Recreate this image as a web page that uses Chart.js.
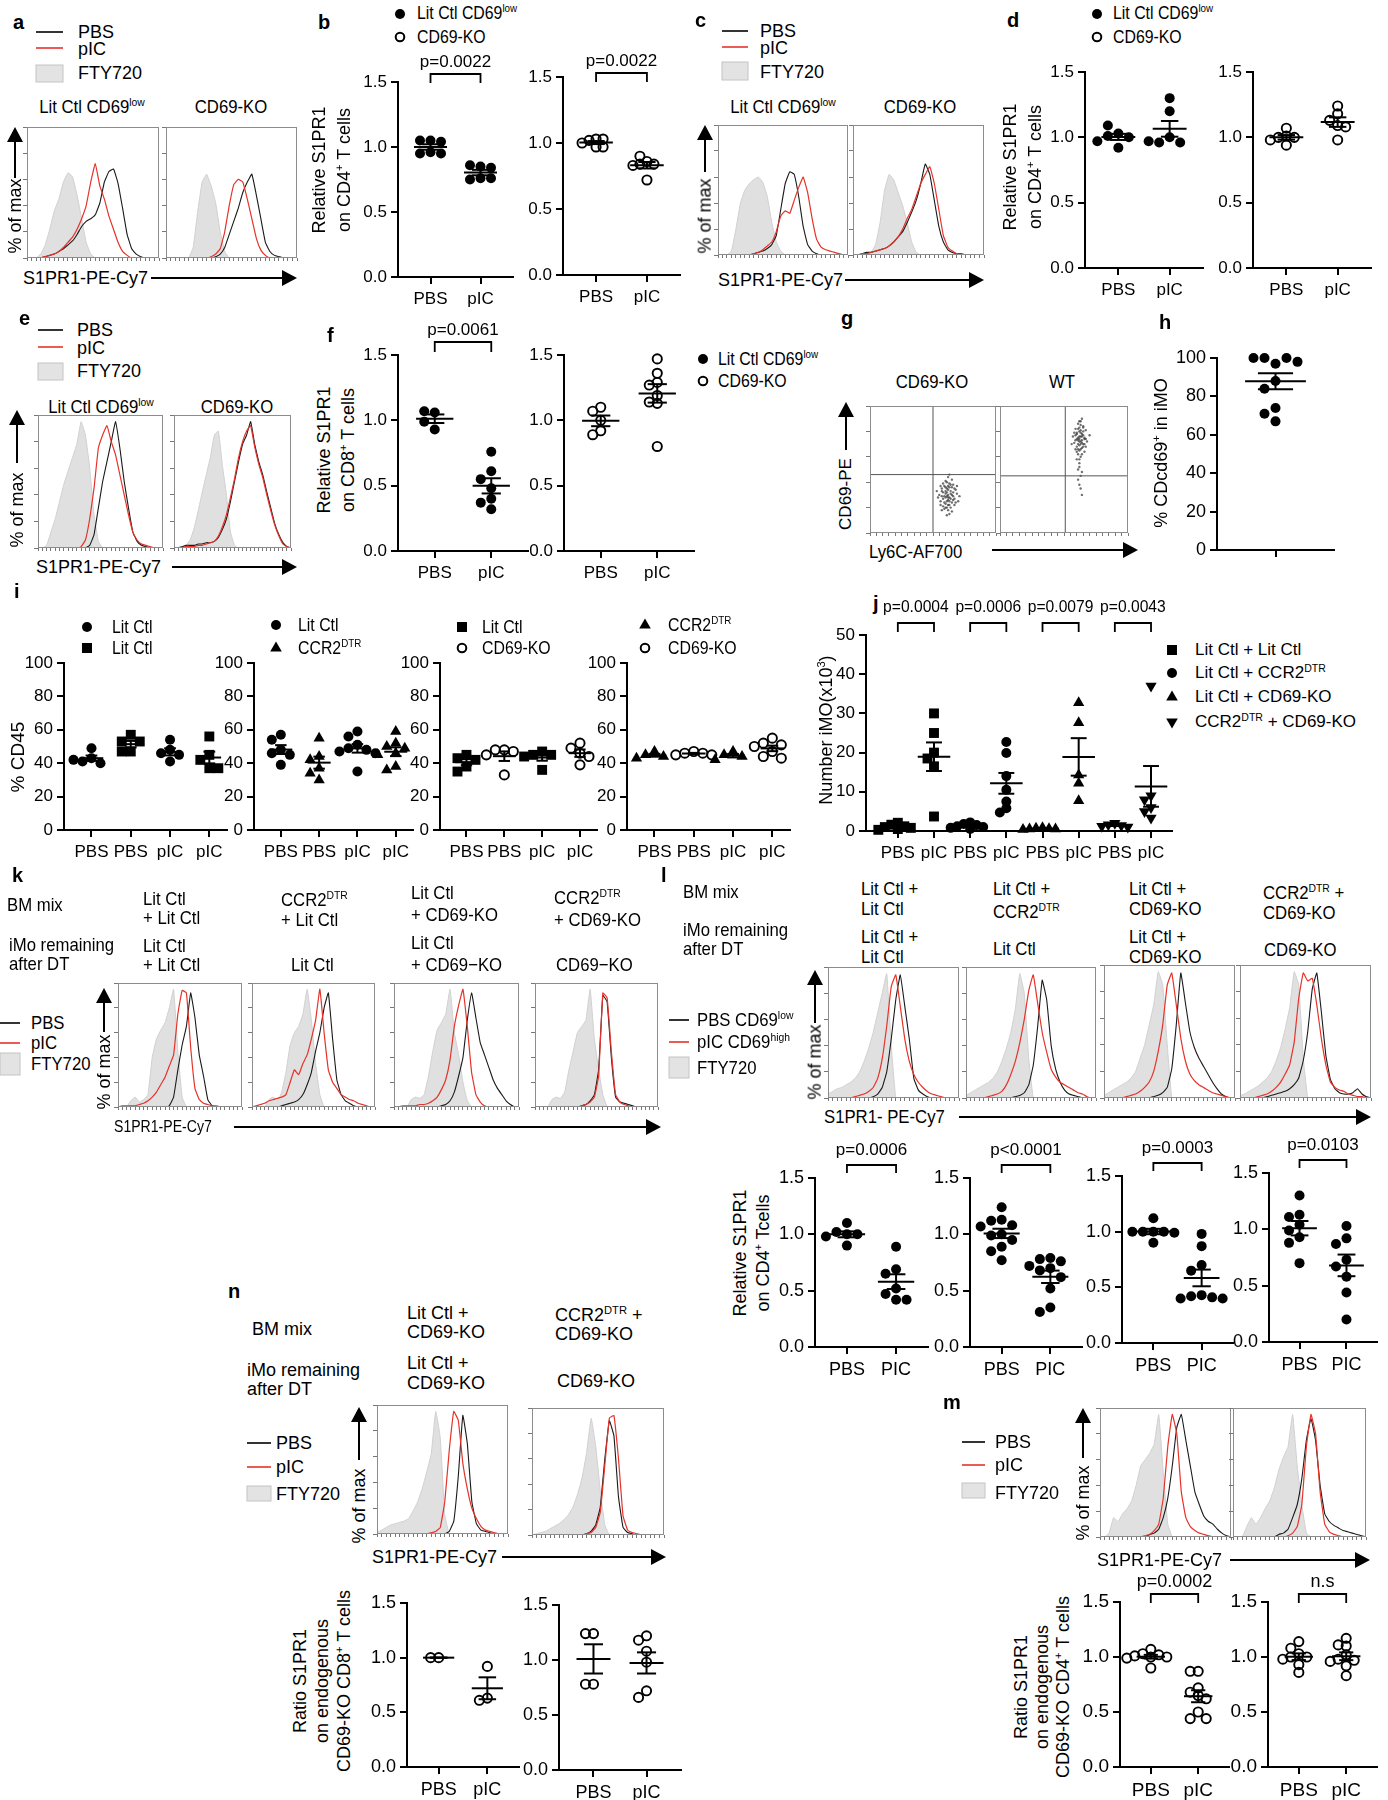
<!DOCTYPE html>
<html>
<head>
<meta charset="utf-8">
<title>S1PR1 / CD69 figure</title>
<script src="https://cdn.jsdelivr.net/npm/chart.js@4.4.1/dist/chart.umd.min.js"></script>
<style>
  html, body { margin: 0; padding: 0; background: #fff; }
  #page { position: relative; width: 1388px; height: 1800px; overflow: hidden;
          font-family: "Liberation Sans", Arial, Helvetica, sans-serif; color: #000; }
  #deco { position: absolute; left: 0; top: 0; }
  .t { position: absolute; white-space: nowrap; line-height: 1.15; }
  .t sup { font-size: 0.62em; vertical-align: 0.6em; line-height: 0; }
  canvas { position: absolute; }
</style>
</head>
<body>
<div id="page"><svg id="deco" width="1388" height="1800"></svg></div>
<script>
// ---------- data ----------
// histogram traces: % of max on a 30-bin grid (trailing zeros padded in code)
const aLitFty = [0,0,0,3,10,22,36,45,58,65,62,48,30,12,3];
const aLitPbs = [0,0,0,0,1,2,3,5,7,10,13,18,24,28,30,33,42,58,66,68,57,38,18,7,3,1];
const aLitPic = [0,0,0,0,1,2,3,5,8,12,16,22,30,40,58,72,55,45,32,22,12,5,2];
const aKoFty = [0,0,0,0,0,0,8,35,58,64,55,42,20,5];
const aKoPbs = [0,0,0,0,0,0,0,0,0,0,0,1,3,8,18,28,38,50,58,64,48,30,12,5,2,1];
const aKoPic = [0,0,0,0,0,0,0,0,0,0,1,3,7,20,40,56,60,58,45,30,15,6,2];

const cLitFty = [0,0,0,3,20,40,50,55,58,60,56,45,25,10,3];
const cLitPbs = [0,0,0,0,0,0,0,0,1,2,3,5,8,15,35,55,64,62,45,22,8,3,1];
const cLitPic = [0,0,0,0,0,0,0,0,1,2,4,7,10,18,30,34,32,42,52,60,48,28,12,6,4,3,2,1];
const cKoFty = [0,0,0,0,2,8,25,50,62,58,48,38,25,10,2];
const cKoPbs = [0,0,1,2,2,3,4,5,7,10,14,18,25,33,42,55,70,62,42,22,10,4,2,1,1];
const cKoPic = [0,0,1,1,2,3,4,5,7,10,14,20,28,35,45,55,62,68,55,35,15,6,3,1];

const eLitFty = [0,0,2,12,22,35,48,58,68,78,95,85,60,25,5];
const eLitPbs = [0,0,0,0,0,0,0,0,0,0,0,0,2,10,30,50,65,80,95,75,50,30,12,5,2,1];
const eLitPic = [0,0,0,0,0,0,0,0,0,0,1,6,22,45,75,85,92,80,70,55,40,25,12,6,3,2,1];
const eKoFty = [0,0,0,2,6,15,28,42,55,68,85,88,62,40,12,2];
const eKoPbs = [0,0,1,2,2,2,3,3,4,4,5,8,14,22,35,50,65,78,85,95,78,65,55,42,30,18,10,4,1];
const eKoPic = [0,0,0,1,1,1,2,2,3,4,5,9,16,25,38,52,68,80,88,92,76,63,53,40,28,17,9,3,1];

const kh1Fty = [0,0,0,5,8,4,6,10,40,55,62,68,80,95,45,8];
const kh1Pbs = [0,0,0,0,0,0,0,0,0,0,0,0,1,8,30,50,65,92,72,42,25,6,1];
const kh1Pic = [0,1,1,1,1,2,3,5,8,12,18,24,33,42,75,94,92,48,15,6,3,2,1,1];
const kh2Fty = [0,0,0,0,6,8,5,12,28,50,60,65,75,95,70,35,10];
const kh2Pbs = [0,0,0,0,0,0,0,1,2,3,4,6,10,18,28,45,60,80,92,55,22,10,5,3,1];
const kh2Pic = [0,1,2,3,5,6,7,8,10,20,30,26,35,42,55,70,95,60,30,20,15,10,8,6,5,3,2,1];
const kh3Fty = [0,0,0,0,6,8,7,10,25,45,62,68,75,95,60,42,20,5];
const kh3Pbs = [0,0,0,0,0,0,0,0,0,0,0,1,2,5,12,25,40,70,92,72,52,42,32,22,15,10,5,2];
const kh3Pic = [0,0,1,1,1,1,2,2,3,5,8,14,22,38,65,82,95,65,28,10,4,1];
const kh4Fty = [0,0,0,0,6,8,7,12,30,45,60,65,70,95,55,30,10];
const kh4Pbs = [0,0,0,0,0,0,0,0,0,0,0,1,2,5,10,30,90,85,40,8,4,3,2,1];
const kh4Pic = [0,0,0,0,0,0,0,0,0,0,0,1,2,4,8,25,92,88,45,10,4,2,1];

const lh1Fty = [3,5,7,8,10,12,15,20,28,38,50,65,80,95,40];
const lh1Pbs = [0,0,0,0,0,0,0,0,0,0,1,3,8,20,45,75,94,70,45,15,6,3,1];
const lh1Pic = [0,0,0,0,0,0,1,2,3,5,8,15,30,55,85,94,70,45,28,18,12,8,5,3,2,1];
const lh2Fty = [2,4,6,8,10,12,15,20,28,38,50,68,95,80,30];
const lh2Pbs = [0,0,0,0,0,0,0,0,0,0,0,1,2,4,10,25,55,90,75,40,22,12,6,3,2,1];
const lh2Pic = [0,0,0,0,0,1,2,3,5,10,18,28,42,60,82,94,72,50,35,22,16,12,10,8,6,4,3,1];
const lh3Fty = [2,4,6,8,10,12,15,20,30,40,55,70,95,85,40];
const lh3Pbs = [0,0,0,0,0,0,0,0,0,0,0,1,2,4,8,22,55,94,72,50,38,30,24,18,12,7,3,1];
const lh3Pic = [0,0,0,0,0,1,2,3,5,8,12,20,35,55,85,94,70,45,28,18,13,10,8,6,4,3,2,1];
const lh4Fty = [2,3,5,7,9,12,15,20,28,38,52,68,95,85,30];
const lh4Pbs = [0,0,0,0,0,0,1,2,3,4,5,7,10,15,28,50,82,94,65,32,14,7,4,3,3,4,7,3,1];
const lh4Pic = [0,0,0,0,1,2,3,5,8,12,18,25,42,75,94,88,90,70,45,25,12,8,6,5,3,2,1,1];

const nh1Fty = [1,3,5,7,8,9,10,12,18,25,35,48,62,95,75,15];
const nh1Pbs = [0,0,0,0,0,0,0,0,0,0,0,0,0,0,0,0,2,10,45,92,70,25,8,3,2,1];
const nh1Pic = [0,0,0,0,0,0,0,0,0,0,0,0,1,2,5,25,65,95,88,55,35,20,12,6,3,2,1];
const nh2Fty = [0,1,2,3,5,7,9,12,16,22,32,45,65,92,70,35,8];
const nh2Pbs = [0,0,0,0,0,0,0,0,0,0,0,0,1,3,8,22,60,90,78,30,6,2,1];
const nh2Pic = [0,0,0,0,0,0,0,0,0,0,0,0,1,2,6,18,55,92,94,60,15,4,2,1];

const mh1Fty = [0,0,3,15,12,18,22,28,40,55,60,65,72,95,50,10];
const mh1Pbs = [0,0,0,0,0,0,0,0,0,0,0,2,3,6,15,30,55,85,95,75,55,35,25,16,12,10,6,3,1];
const mh1Pic = [0,0,0,0,0,0,0,0,0,0,1,2,5,10,30,70,95,80,35,15,8,5,3,2,1];
const mh2Fty = [0,0,0,8,15,10,15,22,28,38,52,62,70,95,55,25,3];
const mh2Pbs = [0,0,0,0,0,0,0,0,0,0,2,3,6,15,25,45,75,92,75,40,18,12,9,7,5,4,3,2,1];
const mh2Pic = [0,0,0,0,0,0,0,0,0,0,0,0,1,3,8,25,70,95,80,35,10,4,2,1];

// g: flow dot plots, [Ly6C %, CD69 %] of the plot frame
const gKoCells = [[62,30],[60,28],[64,33],[56,25],[67,27],[61,35],[63,22],[58,32],[66,38],[62,26],
  [55,30],[69,31],[60,20],[65,24],[61,40],[63,36],[57,35],[68,34],[59,24],[62,18],
  [66,29],[58,27],[64,31],[61,29],[65,42],[56,22],[70,25],[54,28],[62,44],[59,37],
  [64,20],[63,15],[58,39],[60,23],[67,22],[57,33],[71,29],[62,34],[60,31],[66,26],
  [61,14],[63,46],[57,18],[65,36],[62,28],[53,33],[69,37],[60,33],[64,27],[59,29],
  [63,39],[61,25],[66,32],[58,21],[62,22],[65,17],[60,41],[67,35],[56,37],[63,28],
  [61,32],[64,38],[59,19],[62,37],[68,24],[57,29],[63,25],[60,36],[65,30],[61,20]];
const gWtCells = [[63,72],[61,75],[65,70],[62,80],[64,78],[60,68],[66,74],[62,65],[63,85],[61,82],
  [65,77],[59,73],[64,67],[62,88],[60,79],[67,81],[63,70],[61,62],[65,84],[62,76],
  [64,73],[58,71],[63,60],[62,55],[61,50],[64,90],[57,76],[68,72],[63,79],[62,69],
  [66,64],[61,86],[60,58],[63,45],[62,38],[64,30],[59,82],[67,68],[62,74],[63,66],
  [60,78],[65,83],[62,52],[66,75],[60,64],[56,70],[70,77],[64,71],[61,70],[63,76],
  [65,80],[59,66],[62,83],[64,62],[61,73],[66,70],[58,79],[63,88],[60,74],[65,68],
  [62,72],[64,76],[61,66],[67,74],[59,77],[63,81],[62,58],[64,48],[61,42],[63,35]];
const gGateX = [50, 51];
const gGateY = [46, 45];

// dot plots
const pbsPic = ['PBS', 'pIC'];
const pbsPIC = ['PBS', 'PIC'];
const bLitPbs = [1.05, 1.05, 1.04, 0.96, 0.95, 0.95];
const bLitPic = [0.85, 0.86, 0.84, 0.76, 0.75, 0.76];
const bKoPbs = [1.03, 1.02, 1.03, 1.00, 0.97, 0.97];
const bKoPic = [0.86, 0.84, 0.84, 0.90, 0.83, 0.72];
const dLitPbs = [1.03, 1.01, 1.00, 1.09, 0.97, 0.92];
const dLitPic = [1.30, 1.20, 1.00, 0.96, 0.96, 0.97];
const dKoPbs = [1.07, 1.01, 1.00, 1.00, 0.98, 0.94];
const dKoPic = [1.24, 1.18, 1.13, 1.09, 1.08, 0.98];
const fLitPbs = [1.06, 1.07, 0.99, 0.93];
const fLitPic = [0.76, 0.61, 0.55, 0.48, 0.40, 0.37, 0.32];
const fKoPbs = [1.10, 1.07, 1.00, 0.92, 0.89];
const fKoPic = [1.47, 1.36, 1.29, 1.27, 1.19, 1.14, 1.13, 0.80];
const hCd69 = [97, 100, 100, 100, 98, 88, 84, 74, 71, 67];

const iCats = ['PBS', 'PBS', 'pIC', 'pIC'];
const i1LitA = [49, 43, 41, 40, 42],  i1LitB = [57, 53, 53, 47, 47];
const i1LitAp = [54, 48, 46, 45, 41], i1LitBp = [56, 45, 42, 37, 37];
const i2Lit = [57, 54, 48, 46, 45, 39], i2Ccr = [55, 44, 42, 37, 34, 30];
const i2Litp = [59, 56, 51, 49, 48, 47, 46, 35], i2Ccrp = [59, 52, 50, 49, 46, 45, 38, 36];
const i3Lit = [45, 43, 42, 38, 35], i3Ko = [48, 48, 47, 45, 33];
const i3Litp = [47, 45, 45, 44, 36], i3Kop = [52, 49, 46, 44, 39];
const i4Ccr = [47, 45, 44, 43], i4Ko = [47, 46, 46, 45, 45];
const i4Ccrp = [47, 45, 44, 42], i4Kop = [55, 52, 51, 50, 47, 44, 43];

const jCats = ['PBS', 'pIC', 'PBS', 'pIC', 'PBS', 'pIC', 'PBS', 'pIC'];
const jLLPbs = [2.1, 1.6, 1.2, 1.0, 0.8, 0.5, 0.3], jLLPic = [30, 25, 20, 18.5, 16.5, 3.7];
const jLCPbs = [2.2, 1.8, 1.5, 1.2, 1.0, 0.8, 0.5], jLCPic = [22.7, 19.9, 14, 10.5, 7.5, 5.8, 4.7];
const jLKPbs = [0.8, 0.7, 0.6, 0.5, 0.5, 0.4],     jLKPic = [32.7, 27.6, 14.3, 12.2, 7.7];
const jCKPbs = [2.0, 1.6, 1.4, 1.2, 1.0],          jCKPic = [37, 9, 8, 6, 5, 3.3];

const lDot1Pbs = [1.10, 1.02, 1.00, 1.00, 0.98, 0.90];
const lDot1Pic = [0.89, 0.69, 0.65, 0.52, 0.47, 0.42, 0.42];
const lDot2Pbs = [1.24, 1.13, 1.12, 1.08, 1.07, 1.00, 0.99, 0.95, 0.89, 0.85, 0.77];
const lDot2Pic = [0.79, 0.78, 0.76, 0.72, 0.70, 0.68, 0.62, 0.52, 0.35, 0.31];
const lDot3Pbs = [1.12, 1.00, 1.00, 1.00, 1.00, 0.99, 0.90];
const lDot3Pic = [0.98, 0.87, 0.70, 0.65, 0.43, 0.42, 0.41, 0.40, 0.40];
const lDot4Pbs = [1.30, 1.13, 1.11, 1.04, 0.99, 0.93, 0.88, 0.70];
const lDot4Pic = [1.03, 0.92, 0.87, 0.73, 0.67, 0.58, 0.44, 0.20];

const nDot1Pbs = [1.0, 1.0], nDot1Pic = [0.92, 0.63, 0.61];
const nDot2Pbs = [1.24, 1.24, 0.78, 0.78], nDot2Pic = [1.22, 1.18, 1.08, 0.98, 0.72, 0.66];
const mDot1Pbs = [1.07, 1.03, 1.02, 1.01, 1.00, 1.00, 0.99, 0.90];
const mDot1Pic = [0.87, 0.87, 0.72, 0.68, 0.65, 0.62, 0.50, 0.44, 0.44];
const mDot2Pbs = [1.14, 1.08, 1.03, 1.00, 1.00, 0.98, 0.93, 0.86];
const mDot2Pic = [1.17, 1.11, 1.10, 1.02, 0.98, 0.97, 0.96, 0.92, 0.83];

// ---------- helpers ----------
const FONT = '"Liberation Sans", Arial, sans-serif';
const NARROW = 0.88;
const RED = '#e5332a';
const page = document.getElementById('page');
const svg = document.getElementById('deco');
const pad30 = a => a.concat(new Array(Math.max(0, 30 - a.length)).fill(0));
const mean = a => a.reduce((s, v) => s + v, 0) / a.length;
const sem = a => {
  const m = mean(a);
  return Math.sqrt(a.reduce((s, v) => s + (v - m) * (v - m), 0) / (a.length - 1)) / Math.sqrt(a.length);
};

// plain text, y = vertical middle
function T(html, x, y, size, align, narrow, bold) {
  const d = document.createElement('div');
  d.className = 't';
  d.innerHTML = html;
  d.style.left = x + 'px';
  d.style.top = y + 'px';
  d.style.fontSize = size + 'px';
  if (bold) d.style.fontWeight = 'bold';
  const k = narrow ? NARROW : 1;
  const f = align === 'c' ? 0.5 : align === 'r' ? 1 : 0;
  d.style.transformOrigin = '0 50%';
  d.style.transform = `translate(${-f * k * 100}%, -50%) scaleX(${k})`;
  page.appendChild(d);
}
// rotated (bottom-to-top) text centred on x,y
function TV(html, x, y, size, lh) {
  const d = document.createElement('div');
  d.className = 't';
  d.innerHTML = html;
  d.style.left = x + 'px';
  d.style.top = y + 'px';
  d.style.fontSize = size + 'px';
  d.style.textAlign = 'center';
  if (lh) d.style.lineHeight = lh + 'px';
  d.style.transform = 'translate(-50%, -50%) rotate(-90deg)';
  page.appendChild(d);
}
function sv(tag, at) {
  const e = document.createElementNS('http://www.w3.org/2000/svg', tag);
  for (const k in at) e.setAttribute(k, at[k]);
  svg.appendChild(e);
}
function arrowR(x1, x2, y) {
  sv('line', { x1: x1, y1: y, x2: x2 - 12, y2: y, stroke: '#000', 'stroke-width': 2 });
  sv('polygon', { points: `${x2 - 15},${y - 8} ${x2},${y} ${x2 - 15},${y + 8}`, fill: '#000' });
}
function arrowU(x, yTop, yBot) {
  sv('line', { x1: x, y1: yTop + 12, x2: x, y2: yBot, stroke: '#000', 'stroke-width': 2 });
  sv('polygon', { points: `${x - 8},${yTop + 15} ${x},${yTop} ${x + 8},${yTop + 15}`, fill: '#000' });
}
function legend3(x1, x2, yK, yR, boxT, boxB, tx, ty, labels, size, narrow) {
  sv('line', { x1: x1, y1: yK, x2: x2, y2: yK, stroke: '#000', 'stroke-width': 1.6 });
  sv('line', { x1: x1, y1: yR, x2: x2, y2: yR, stroke: RED, 'stroke-width': 1.6 });
  sv('rect', { x: x1, y: boxT, width: x2 - x1, height: boxB - boxT, fill: '#e3e3e3', stroke: '#c4c4c4', 'stroke-width': 1 });
  labels.forEach((s, i) => T(s, tx, ty[i], size, 'l', narrow));
}
function mark(shape, x, y, open) {
  if (shape === 'circle') {
    sv('circle', { cx: x, cy: y, r: open ? 4.3 : 5, fill: open ? '#fff' : '#000', stroke: '#000', 'stroke-width': open ? 2 : 0 });
  } else if (shape === 'rect') {
    sv('rect', { x: x - 5, y: y - 5, width: 10, height: 10, fill: '#000' });
  } else if (shape === 'triangle') {
    sv('polygon', { points: `${x},${y - 6.5} ${x + 5.8},${y + 3.6} ${x - 5.8},${y + 3.6}`, fill: '#000' });
  } else {
    sv('polygon', { points: `${x},${y + 6.5} ${x + 5.8},${y - 3.6} ${x - 5.8},${y - 3.6}`, fill: '#000' });
  }
}
function canvasAt(l, t, w, h) {
  const c = document.createElement('canvas');
  c.width = Math.round(w); c.height = Math.round(h);
  c.style.left = Math.round(l) + 'px'; c.style.top = Math.round(t) + 'px';
  c.style.width = Math.round(w) + 'px'; c.style.height = Math.round(h) + 'px';
  page.appendChild(c);
  return c;
}

const framePlugin = {
  id: 'frame',
  afterDraw(chart) {
    const { ctx, chartArea: a } = chart;
    ctx.save();
    ctx.strokeStyle = '#8c8c8c';
    ctx.lineWidth = 1;
    ctx.strokeRect(a.left + 0.5, a.top + 0.5, a.right - a.left - 1, a.bottom - a.top - 1);
    ctx.restore();
  }
};
function boxScales(xStep, yStep, xMax) {
  return {
    x: { type: 'linear', min: 0, max: xMax, afterFit: s => { s.height = 6; },
         ticks: { display: false, stepSize: xStep, maxTicksLimit: 60 }, border: { display: false },
         grid: { drawOnChartArea: false, drawTicks: true, tickLength: 3, color: '#777', lineWidth: 1 } },
    y: { min: 0, max: 100, afterFit: s => { s.width = 6; },
         ticks: { display: false, stepSize: yStep }, border: { display: false },
         grid: { drawOnChartArea: false, drawTicks: true, tickLength: 4, color: '#777', lineWidth: 1 } }
  };
}
const baseOpts = {
  animation: false, responsive: false, devicePixelRatio: 1,
  events: [],
  layout: { padding: { top: 2, right: 2, left: 0, bottom: 0 } },
  plugins: { legend: { display: false }, tooltip: { enabled: false } }
};

// flow histogram overlay in a framed box [left, top, right, bottom]
function histo(box, fty, pbs, pic) {
  const [l, t, r, b] = box;
  const cv = canvasAt(l - 6, t - 2, r - l + 8, b - t + 8);
  const pts = a => pad30(a).map((v, i) => ({ x: i, y: v }));
  new Chart(cv, {
    type: 'line',
    data: { datasets: [
      { data: pts(pic), borderColor: RED, borderWidth: 1.2, pointRadius: 0, fill: false, tension: 0.1 },
      { data: pts(pbs), borderColor: '#1a1a1a', borderWidth: 1.1, pointRadius: 0, fill: false, tension: 0.1 },
      { data: pts(fty), borderColor: '#d0d0d0', backgroundColor: '#e0e0e0', borderWidth: 1, pointRadius: 0, fill: 'origin', tension: 0.1 }
    ] },
    options: Object.assign({}, baseOpts, { scales: boxScales(1, 20, 29) }),
    plugins: [framePlugin]
  });
}

// flow dot plot with quadrant gate
function flowPlot(box, cells, gx, gy) {
  const [l, t, r, b] = box;
  const cv = canvasAt(l - 6, t - 2, r - l + 8, b - t + 8);
  const gate = {
    id: 'gate',
    afterDatasetsDraw(chart) {
      const { ctx, chartArea: a, scales: { x, y } } = chart;
      ctx.save();
      ctx.strokeStyle = '#555';
      ctx.lineWidth = 1;
      const px = x.getPixelForValue(gx), py = y.getPixelForValue(gy);
      ctx.beginPath();
      ctx.moveTo(px, a.top); ctx.lineTo(px, a.bottom);
      ctx.moveTo(a.left, py); ctx.lineTo(a.right, py);
      ctx.stroke();
      ctx.restore();
    }
  };
  new Chart(cv, {
    type: 'scatter',
    data: { datasets: [{ data: cells.map(([x, y]) => ({ x, y })), pointRadius: 1.2,
                         backgroundColor: 'rgba(50,50,50,0.7)', borderWidth: 0 }] },
    options: Object.assign({}, baseOpts, { scales: boxScales(5, 20, 100) }),
    plugins: [gate, framePlugin]
  });
}

// spread points sideways where they would overlap (column scatter)
function swarm(vals, cat, pxX, pxY, gap) {
  const placed = [];
  return vals.map(v => {
    const py = v * pxY;
    let off = 0;
    for (let k = 0; k < 40; k++) {
      const cand = k === 0 ? 0 : (k % 2 ? -1 : 1) * Math.ceil(k / 2) * gap;
      if (placed.every(([qx, qy]) => Math.hypot(qx - cand, qy - py) >= gap * 0.95)) { off = cand; break; }
    }
    placed.push([off, py]);
    return { x: cat + off / pxX, y: v };
  });
}

// column scatter with mean +- SEM and optional p-value brackets
function dotPlot(o) {
  const LW = 64, TP = 64, RP = 8, BP = 42;
  const xr = o.xr || [-0.65, 1.65];
  const W = o.right - o.ax + LW + RP, H = o.bot - o.top + TP + BP;
  const cv = canvasAt(o.ax - LW, o.top - TP, W, H);
  const pxX = (o.right - o.ax) / (xr[1] - xr[0]);
  const pxY = (o.bot - o.top) / o.ymax;
  const fs = o.fs || 17;
  const mh = o.mh || 0.33, ch = o.ch || 0.17;
  const br = o.br || [8, 20, -1];
  const fmt = o.fmt || (v => v.toFixed(1));
  const datasets = o.groups.map(g => {
    const shape = g.shape || 'circle';
    return {
      data: swarm(g.vals, g.cat, pxX, pxY, o.gap || (g.open ? 8 : 10.5)),
      pointStyle: shape === 'down' ? 'triangle' : shape,
      rotation: shape === 'down' ? 180 : 0,
      pointRadius: shape === 'rect' ? 7 : (shape === 'circle' ? (g.open ? 4.6 : 5) : 6.5),
      backgroundColor: g.open ? 'rgba(255,255,255,0)' : '#000',
      borderColor: '#000',
      borderWidth: g.open ? 1.9 : 0,
      clip: false
    };
  });
  const stats = {
    id: 'stats',
    afterDatasetsDraw(chart) {
      const { ctx, chartArea: a } = chart;
      const x = chart.scales.x, y = chart.scales.y;
      const seg = (x1, y1, x2, y2) => { ctx.beginPath(); ctx.moveTo(x1, y1); ctx.lineTo(x2, y2); ctx.stroke(); };
      ctx.save();
      ctx.strokeStyle = '#000';
      ctx.lineWidth = 2;
      o.groups.forEach(g => {
        const m = mean(g.vals), s = sem(g.vals);
        const cx = x.getPixelForValue(g.cat);
        const ym = y.getPixelForValue(m), yHi = y.getPixelForValue(m + s), yLo = y.getPixelForValue(m - s);
        seg(x.getPixelForValue(g.cat - mh), ym, x.getPixelForValue(g.cat + mh), ym);
        seg(cx, yHi, cx, yLo);
        seg(x.getPixelForValue(g.cat - ch), yHi, x.getPixelForValue(g.cat + ch), yHi);
        seg(x.getPixelForValue(g.cat - ch), yLo, x.getPixelForValue(g.cat + ch), yLo);
      });
      ctx.lineWidth = 1.8;
      ctx.fillStyle = '#000';
      ctx.font = `${o.pfs || 17}px ${FONT}`;
      ctx.textAlign = 'center';
      ctx.textBaseline = 'middle';
      (o.pairs || []).forEach(([p, q, label]) => {
        const xa = x.getPixelForValue(p), xb = x.getPixelForValue(q);
        const yb = a.top - br[0], yl = a.top - br[2];
        ctx.beginPath();
        ctx.moveTo(xa, yl); ctx.lineTo(xa, yb); ctx.lineTo(xb, yb); ctx.lineTo(xb, yl);
        ctx.stroke();
        ctx.save();
        ctx.translate((xa + xb) / 2, a.top - br[1]);
        ctx.scale(o.pn || 1, 1);
        ctx.fillText(label, 0, 0);
        ctx.restore();
      });
      ctx.restore();
    }
  };
  new Chart(cv, {
    type: 'scatter',
    data: { datasets },
    options: {
      animation: false, responsive: false, devicePixelRatio: 1, events: [],
      layout: { padding: { top: TP, right: RP, left: 0, bottom: 0 } },
      plugins: { legend: { display: false }, tooltip: { enabled: false } },
      scales: {
        x: {
          type: 'linear', min: xr[0], max: xr[1],
          afterFit: s => { s.height = BP; },
          afterBuildTicks: s => { s.ticks = o.cats.map((c, i) => ({ value: i })); },
          ticks: { callback: (v, i) => o.cats[i], autoSkip: false, maxRotation: 0, padding: 5,
                   color: '#000', font: { size: fs, family: FONT } },
          grid: { drawOnChartArea: false, drawTicks: true, tickLength: 7, tickWidth: 2, tickColor: '#000', lineWidth: 2 },
          border: { color: '#000', width: 2 }
        },
        y: {
          min: 0, max: o.ymax,
          afterFit: s => { s.width = LW; },
          ticks: { stepSize: o.step, callback: fmt, padding: 4, color: '#000', font: { size: fs, family: FONT } },
          grid: { drawOnChartArea: false, drawTicks: true, tickLength: 7, tickWidth: 2, tickColor: '#000', lineWidth: 2 },
          border: { color: '#000', width: 2 }
        }
      }
    },
    plugins: [stats]
  });
}
const intFmt = v => String(Math.round(v));
const histLabels = ['PBS', 'pIC', 'FTY720'];

// ---------- a ----------
T('a', 13, 22, 20, 'l', false, true);
legend3(36, 63, 32, 48, 65, 82, 78, [32, 49, 73], histLabels, 18);
T('Lit Ctl CD69<sup>low</sup>', 92, 107, 19, 'c', true);
T('CD69-KO', 231, 107, 19, 'c', true);
histo([27, 127, 159, 258], aLitFty, aLitPbs, aLitPic);
histo([166, 127, 297, 258], aKoFty, aKoPbs, aKoPic);
arrowU(15, 127, 178);
TV('% of max', 15, 216, 18);
T('S1PR1-PE-Cy7', 23, 278, 18);
arrowR(151, 297, 278);

// ---------- b ----------
T('b', 318, 22, 20, 'l', false, true);
mark('circle', 400, 14); T('Lit Ctl CD69<sup>low</sup>', 417, 13, 18, 'l', true);
mark('circle', 400, 37, true); T('CD69-KO', 417, 37, 18, 'l', true);
TV('Relative S1PR1<br>on CD4<sup>+</sup> T cells', 332, 170, 18, 25);
dotPlot({ ax: 398, top: 82, bot: 277, right: 513, ymax: 1.5, step: 0.5, cats: pbsPic,
          groups: [{ cat: 0, vals: bLitPbs }, { cat: 1, vals: bLitPic }], pairs: [[0, 1, 'p=0.0022']], br: [8, 20, -1] });
dotPlot({ ax: 563, top: 77, bot: 275, right: 680, ymax: 1.5, step: 0.5, cats: pbsPic, gap: 7,
          groups: [{ cat: 0, vals: bKoPbs, open: true }, { cat: 1, vals: bKoPic, open: true }],
          pairs: [[0, 1, 'p=0.0022']], br: [4, 16, -5] });

// ---------- c ----------
T('c', 695, 20, 20, 'l', false, true);
legend3(722, 748, 31, 47, 62, 80, 760, [31, 48, 72], histLabels, 18);
T('Lit Ctl CD69<sup>low</sup>', 783, 107, 19, 'c', true);
T('CD69-KO', 920, 107, 19, 'c', true);
histo([718, 125, 848, 255], cLitFty, cLitPbs, cLitPic);
histo([853, 125, 984, 255], cKoFty, cKoPbs, cKoPic);
arrowU(705, 125, 172);
TV('% of max', 705, 216, 18);
T('S1PR1-PE-Cy7', 718, 280, 18);
arrowR(845, 984, 280);

// ---------- d ----------
T('d', 1007, 20, 20, 'l', false, true);
mark('circle', 1097, 14); T('Lit Ctl CD69<sup>low</sup>', 1113, 13, 18, 'l', true);
mark('circle', 1097, 37, true); T('CD69-KO', 1113, 37, 18, 'l', true);
TV('Relative S1PR1<br>on CD4<sup>+</sup> T cells', 1023, 167, 18, 25);
dotPlot({ ax: 1085, top: 72, bot: 268, right: 1203, ymax: 1.5, step: 0.5, cats: pbsPic,
          groups: [{ cat: 0, vals: dLitPbs }, { cat: 1, vals: dLitPic }] });
dotPlot({ ax: 1253, top: 72, bot: 268, right: 1371, ymax: 1.5, step: 0.5, cats: pbsPic,
          groups: [{ cat: 0, vals: dKoPbs, open: true }, { cat: 1, vals: dKoPic, open: true }] });

// ---------- e ----------
T('e', 19, 318, 20, 'l', false, true);
legend3(38, 63, 330, 347, 363, 380, 77, [330, 348, 371], histLabels, 18);
T('Lit Ctl CD69<sup>low</sup>', 101, 407, 19, 'c', true);
T('CD69-KO', 237, 407, 19, 'c', true);
histo([38, 415, 163, 548], eLitFty, eLitPbs, eLitPic);
histo([174, 415, 291, 548], eKoFty, eKoPbs, eKoPic);
arrowU(17, 410, 463);
TV('% of max', 17, 510, 18);
T('S1PR1-PE-Cy7', 36, 567, 18);
arrowR(172, 297, 567);

// ---------- f ----------
T('f', 327, 335, 20, 'l', false, true);
TV('Relative S1PR1<br>on CD8<sup>+</sup> T cells', 336, 450, 18, 24);
dotPlot({ ax: 398, top: 355, bot: 551, right: 528, ymax: 1.5, step: 0.5, cats: pbsPic,
          groups: [{ cat: 0, vals: fLitPbs }, { cat: 1, vals: fLitPic }], pairs: [[0, 1, 'p=0.0061']], br: [13, 25, 3] });
dotPlot({ ax: 564, top: 355, bot: 551, right: 694, ymax: 1.5, step: 0.5, cats: pbsPic,
          groups: [{ cat: 0, vals: fKoPbs, open: true }, { cat: 1, vals: fKoPic, open: true }] });
mark('circle', 703, 359); T('Lit Ctl CD69<sup>low</sup>', 718, 359, 18, 'l', true);
mark('circle', 703, 381, true); T('CD69-KO', 718, 381, 18, 'l', true);

// ---------- g ----------
T('g', 841, 318, 20, 'l', false, true);
T('CD69-KO', 932, 382, 19, 'c', true);
T('WT', 1062, 382, 19, 'c', true);
flowPlot([870, 404, 998, 533], gKoCells, gGateX[0], gGateY[0]);
flowPlot([1000, 404, 1130, 533], gWtCells, gGateX[1], gGateY[1]);
arrowU(846, 402, 450);
TV('CD69-PE', 846, 494, 17);
T('Ly6C-AF700', 869, 552, 19, 'l', true);
arrowR(992, 1138, 550);

// ---------- h ----------
T('h', 1159, 322, 20, 'l', false, true);
TV('% CDcd69<sup>+</sup> in iMO', 1161, 453, 18);
dotPlot({ ax: 1217, top: 358, bot: 550, right: 1334, ymax: 100, step: 20, fmt: intFmt, cats: [''],
          xr: [-0.5, 0.5], groups: [{ cat: 0, vals: hCd69 }], mh: 0.26, ch: 0.15, gap: 11, fs: 18 });

// ---------- i ----------
T('i', 14, 591, 20, 'l', false, true);
TV('% CD45', 18, 757, 19);
const iOpts = { ymax: 100, step: 20, fmt: intFmt, cats: iCats, xr: [-0.7, 3.45], mh: 0.3, ch: 0.15, gap: 9, fs: 17 };
dotPlot(Object.assign({ ax: 64, top: 663, bot: 830, right: 227, groups: [
  { cat: 0, vals: i1LitA }, { cat: 1, vals: i1LitB, shape: 'rect' },
  { cat: 2, vals: i1LitAp }, { cat: 3, vals: i1LitBp, shape: 'rect' }] }, iOpts));
dotPlot(Object.assign({ ax: 254, top: 663, bot: 830, right: 413, groups: [
  { cat: 0, vals: i2Lit }, { cat: 1, vals: i2Ccr, shape: 'triangle' },
  { cat: 2, vals: i2Litp }, { cat: 3, vals: i2Ccrp, shape: 'triangle' }] }, iOpts));
dotPlot(Object.assign({ ax: 440, top: 663, bot: 830, right: 597, groups: [
  { cat: 0, vals: i3Lit, shape: 'rect' }, { cat: 1, vals: i3Ko, open: true },
  { cat: 2, vals: i3Litp, shape: 'rect' }, { cat: 3, vals: i3Kop, open: true }] }, iOpts));
dotPlot(Object.assign({ ax: 627, top: 663, bot: 830, right: 790, groups: [
  { cat: 0, vals: i4Ccr, shape: 'triangle' }, { cat: 1, vals: i4Ko, open: true },
  { cat: 2, vals: i4Ccrp, shape: 'triangle' }, { cat: 3, vals: i4Kop, open: true }] }, iOpts));
mark('circle', 87, 627); T('Lit Ctl', 112, 627, 18, 'l', true);
mark('rect', 87, 648); T('Lit Ctl', 112, 648, 18, 'l', true);
mark('circle', 276, 625); T('Lit Ctl', 298, 625, 18, 'l', true);
mark('triangle', 276, 648); T('CCR2<sup>DTR</sup>', 298, 648, 18, 'l', true);
mark('rect', 462, 627); T('Lit Ctl', 482, 627, 18, 'l', true);
mark('circle', 462, 648, true); T('CD69-KO', 482, 648, 18, 'l', true);
mark('triangle', 645, 625); T('CCR2<sup>DTR</sup>', 668, 625, 18, 'l', true);
mark('circle', 645, 648, true); T('CD69-KO', 668, 648, 18, 'l', true);

// ---------- j ----------
T('j', 873, 603, 20, 'l', false, true);
TV('Number iMO(x10<sup>3</sup>)', 826, 730, 18);
dotPlot({ ax: 866, top: 635, bot: 831, right: 1172, ymax: 50, step: 10, fmt: intFmt, cats: jCats,
          xr: [-0.88, 7.58], mh: 0.45, ch: 0.22, gap: 6.5, fs: 17, pfs: 17, pn: 0.92, br: [12, 28, 3],
          groups: [
            { cat: 0, vals: jLLPbs, shape: 'rect' }, { cat: 1, vals: jLLPic, shape: 'rect' },
            { cat: 2, vals: jLCPbs }, { cat: 3, vals: jLCPic },
            { cat: 4, vals: jLKPbs, shape: 'triangle' }, { cat: 5, vals: jLKPic, shape: 'triangle' },
            { cat: 6, vals: jCKPbs, shape: 'down' }, { cat: 7, vals: jCKPic, shape: 'down' }],
          pairs: [[0, 1, 'p=0.0004'], [2, 3, 'p=0.0006'], [4, 5, 'p=0.0079'], [6, 7, 'p=0.0043']] });
mark('rect', 1172, 650); T('Lit Ctl + Lit Ctl', 1195, 650, 17);
mark('circle', 1172, 673); T('Lit Ctl + CCR2<sup>DTR</sup>', 1195, 673, 17);
mark('triangle', 1172, 697); T('Lit Ctl + CD69-KO', 1195, 697, 17);
mark('down', 1172, 722); T('CCR2<sup>DTR</sup> + CD69-KO', 1195, 722, 17);

// ---------- k ----------
T('k', 12, 875, 20, 'l', false, true);
T('BM mix', 7, 905, 19, 'l', true);
T('iMo remaining', 9, 945, 19, 'l', true);
T('after DT', 9, 964, 19, 'l', true);
T('Lit Ctl', 143, 899, 19, 'l', true); T('+ Lit Ctl', 143, 918, 19, 'l', true);
T('Lit Ctl', 143, 946, 19, 'l', true); T('+ Lit Ctl', 143, 965, 19, 'l', true);
T('CCR2<sup>DTR</sup>', 281, 900, 19, 'l', true); T('+ Lit Ctl', 281, 920, 19, 'l', true);
T('Lit Ctl', 291, 965, 19, 'l', true);
T('Lit Ctl', 411, 893, 19, 'l', true); T('+ CD69-KO', 411, 915, 19, 'l', true);
T('Lit Ctl', 411, 943, 19, 'l', true); T('+ CD69\u2212KO', 411, 965, 19, 'l', true);
T('CCR2<sup>DTR</sup>', 554, 898, 19, 'l', true); T('+ CD69-KO', 554, 920, 19, 'l', true);
T('CD69\u2212KO', 556, 965, 19, 'l', true);
histo([118, 983, 242, 1107], kh1Fty, kh1Pbs, kh1Pic);
histo([252, 983, 375, 1107], kh2Fty, kh2Pbs, kh2Pic);
histo([394, 983, 519, 1107], kh3Fty, kh3Pbs, kh3Pic);
histo([535, 983, 658, 1107], kh4Fty, kh4Pbs, kh4Pic);
legend3(0, 20, 1023, 1043, 1053, 1075, 31, [1023, 1043, 1064], histLabels, 19, true);
arrowU(104, 988, 1032);
TV('% of max', 104, 1072, 18);
T('S1PR1-PE-Cy7', 114, 1127, 16, 'l', true);
arrowR(234, 661, 1127);

// ---------- l ----------
T('l', 661, 875, 20, 'l', false, true);
T('BM mix', 683, 892, 19, 'l', true);
T('iMo remaining', 683, 930, 19, 'l', true);
T('after DT', 683, 949, 19, 'l', true);
T('Lit Ctl +', 861, 889, 19, 'l', true); T('Lit Ctl', 861, 909, 19, 'l', true);
T('Lit Ctl +', 861, 937, 19, 'l', true); T('Lit Ctl', 861, 957, 19, 'l', true);
T('Lit Ctl +', 993, 889, 19, 'l', true); T('CCR2<sup>DTR</sup>', 993, 912, 19, 'l', true);
T('Lit Ctl', 993, 949, 19, 'l', true);
T('Lit Ctl +', 1129, 889, 19, 'l', true); T('CD69-KO', 1129, 909, 19, 'l', true);
T('Lit Ctl +', 1129, 937, 19, 'l', true); T('CD69-KO', 1129, 957, 19, 'l', true);
T('CCR2<sup>DTR</sup> +', 1263, 893, 19, 'l', true); T('CD69-KO', 1263, 913, 19, 'l', true);
T('CD69-KO', 1264, 950, 19, 'l', true);
histo([828, 967, 959, 1098], lh1Fty, lh1Pbs, lh1Pic);
histo([966, 967, 1096, 1098], lh2Fty, lh2Pbs, lh2Pic);
histo([1104, 965, 1235, 1098], lh3Fty, lh3Pbs, lh3Pic);
histo([1240, 965, 1371, 1098], lh4Fty, lh4Pbs, lh4Pic);
legend3(669, 689, 1020, 1042, 1057, 1078, 697, [1020, 1042, 1068],
        ['PBS CD69<sup>low</sup>', 'pIC CD69<sup>high</sup>', 'FTY720'], 19, true);
arrowU(815, 970, 1023);
TV('% of max', 815, 1062, 18);
T('S1PR1- PE-Cy7', 824, 1117, 19, 'l', true);
arrowR(959, 1371, 1117);
TV('Relative S1PR1<br>on CD4<sup>+</sup> Tcells', 752, 1253, 18, 23);
const lOpts = { ymax: 1.5, step: 0.5, cats: pbsPIC, mh: 0.37, ch: 0.19, fs: 18, br: [13, 28, 5] };
dotPlot(Object.assign({ ax: 815, top: 1178, bot: 1347, right: 928,
  groups: [{ cat: 0, vals: lDot1Pbs }, { cat: 1, vals: lDot1Pic }], pairs: [[0, 1, 'p=0.0006']] }, lOpts));
dotPlot(Object.assign({ ax: 970, top: 1178, bot: 1347, right: 1082,
  groups: [{ cat: 0, vals: lDot2Pbs }, { cat: 1, vals: lDot2Pic }], pairs: [[0, 1, 'p<0.0001']] }, lOpts));
dotPlot(Object.assign({ ax: 1122, top: 1176, bot: 1343, right: 1233,
  groups: [{ cat: 0, vals: lDot3Pbs }, { cat: 1, vals: lDot3Pic }], pairs: [[0, 1, 'p=0.0003']] }, lOpts));
dotPlot(Object.assign({ ax: 1269, top: 1173, bot: 1342, right: 1377,
  groups: [{ cat: 0, vals: lDot4Pbs }, { cat: 1, vals: lDot4Pic }], pairs: [[0, 1, 'p=0.0103']] }, lOpts));

// ---------- n ----------
T('n', 228, 1291, 20, 'l', false, true);
T('BM mix', 252, 1329, 18);
T('iMo remaining', 247, 1370, 18);
T('after DT', 247, 1389, 18);
T('Lit Ctl +', 407, 1313, 18); T('CD69-KO', 407, 1332, 18);
T('Lit Ctl +', 407, 1363, 18); T('CD69-KO', 407, 1383, 18);
T('CCR2<sup>DTR</sup> +', 555, 1315, 18); T('CD69-KO', 555, 1334, 18);
T('CD69-KO', 557, 1381, 18);
histo([377, 1405, 508, 1534], nh1Fty, nh1Pbs, nh1Pic);
histo([532, 1408, 664, 1535], nh2Fty, nh2Pbs, nh2Pic);
legend3(247, 271, 1443, 1467, 1486, 1501, 276, [1443, 1467, 1494], histLabels, 18);
arrowU(359, 1407, 1460);
TV('% of max', 359, 1506, 18);
T('S1PR1-PE-Cy7', 372, 1557, 18);
arrowR(502, 666, 1557);
TV('Ratio S1PR1<br>on endogenous<br>CD69-KO CD8<sup>+</sup> T cells', 322, 1681, 18, 22);
dotPlot({ ax: 407, top: 1603, bot: 1767, right: 519, ymax: 1.5, step: 0.5, cats: pbsPic, fs: 18,
          mh: 0.32, ch: 0.18, groups: [{ cat: 0, vals: nDot1Pbs, open: true }, { cat: 1, vals: nDot1Pic, open: true }] });
dotPlot({ ax: 559, top: 1605, bot: 1770, right: 681, ymax: 1.5, step: 0.5, cats: pbsPic, fs: 18,
          mh: 0.32, ch: 0.18, groups: [{ cat: 0, vals: nDot2Pbs, open: true }, { cat: 1, vals: nDot2Pic, open: true }] });

// ---------- m ----------
T('m', 943, 1402, 20, 'l', false, true);
legend3(962, 985, 1442, 1465, 1483, 1498, 995, [1442, 1465, 1493], histLabels, 18);
histo([1100, 1408, 1231, 1537], mh1Fty, mh1Pbs, mh1Pic);
histo([1233, 1408, 1366, 1537], mh2Fty, mh2Pbs, mh2Pic);
arrowU(1083, 1408, 1458);
TV('% of max', 1083, 1503, 18);
T('S1PR1-PE-Cy7', 1097, 1560, 18);
arrowR(1230, 1370, 1560);
TV('Ratio S1PR1<br>on endogenous<br>CD69-KO CD4<sup>+</sup> T cells', 1042, 1687, 18, 21);
dotPlot({ ax: 1120, top: 1602, bot: 1767, right: 1229, ymax: 1.5, step: 0.5, cats: pbsPic, fs: 19, pfs: 18,
          mh: 0.3, ch: 0.15, br: [8, 20, -1], pairs: [[0, 1, 'p=0.0002']],
          groups: [{ cat: 0, vals: mDot1Pbs, open: true }, { cat: 1, vals: mDot1Pic, open: true }] });
dotPlot({ ax: 1268, top: 1602, bot: 1767, right: 1377, ymax: 1.5, step: 0.5, cats: pbsPic, fs: 19, pfs: 18,
          mh: 0.3, ch: 0.15, br: [8, 20, -1], pairs: [[0, 1, 'n.s']],
          groups: [{ cat: 0, vals: mDot2Pbs, open: true }, { cat: 1, vals: mDot2Pic, open: true }] });
</script>
</body>
</html>
